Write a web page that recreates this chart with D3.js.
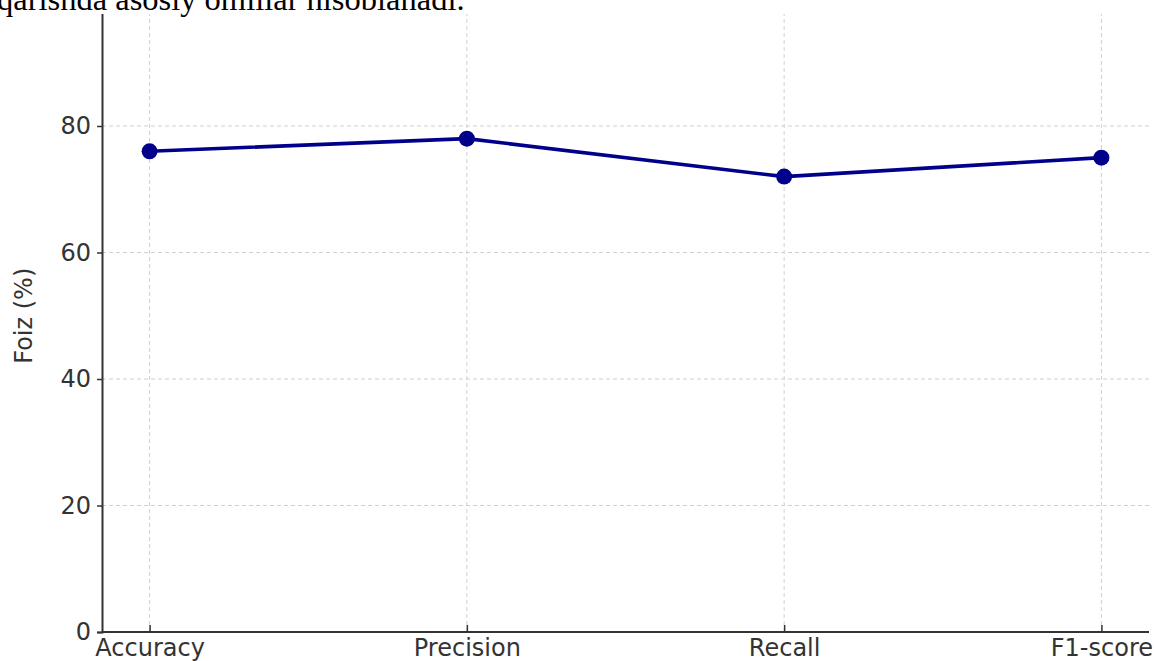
<!DOCTYPE html>
<html>
<head>
<meta charset="utf-8">
<script src="https://cdn.jsdelivr.net/npm/d3@7"></script>
<style>
  html, body { margin: 0; padding: 0; background: #fff; }
  svg { display: block; }
</style>
</head>
<body>
<div class="container"></div>
<script>
// metrics and their values (%)
const metrics = ["Accuracy", "Precision", "Recall", "F1-score"];
const scores = [76, 78, 72, 75];
const yTicks = [0, 20, 40, 60, 80];
const pageText = "qarishda asosiy omillar hisoblanadi.";

const W = 1154, H = 661;
const margin = { top: 0, right: 5, bottom: 29, left: 102 };

const svg = d3.select("div.container").append("svg")
    .attr("width", W)
    .attr("height", H);

const x = d3.scalePoint()
    .domain(metrics)
    .range([margin.left, W - margin.right])
    .padding(0.15);

const y = d3.scaleLinear()
    .domain([0, 100])
    .range([H - margin.bottom, margin.top - 0.5]);

// gridlines
const grid = svg.append("g").attr("class", "grid");
grid.selectAll("line.h")
    .data(yTicks.slice(1))
    .enter().append("line")
    .attr("x1", margin.left).attr("x2", W - margin.right)
    .attr("y1", d => y(d)).attr("y2", d => y(d))
    .attr("stroke", "#d0d0d0").attr("stroke-width", 1)
    .attr("stroke-dasharray", "4,3");
grid.selectAll("line.v")
    .data(metrics)
    .enter().append("line")
    .attr("x1", d => x(d)).attr("x2", d => x(d))
    .attr("y1", y(0)).attr("y2", y(100))
    .attr("stroke", "#d0d0d0").attr("stroke-width", 1)
    .attr("stroke-dasharray", "4,3");

// y axis
const yAxis = svg.append("g")
    .attr("transform", `translate(${margin.left},0)`)
    .call(d3.axisLeft(y).tickValues(yTicks).tickSize(5).tickPadding(6));

// x axis (ticks pointing inward)
const xAxis = svg.append("g")
    .attr("transform", `translate(0,${y(0)})`)
    .call(d3.axisBottom(x).tickSize(-7).tickPadding(7));

[yAxis, xAxis].forEach(g => {
    g.select(".domain").attr("stroke", "#333").attr("stroke-width", 2);
    g.selectAll(".tick line").attr("stroke", "#333").attr("stroke-width", 1.5);
    g.selectAll("text")
        .attr("fill", "#333")
        .style("font-family", "'DejaVu Sans', sans-serif")
        .style("font-size", "24px");
});
xAxis.select(".domain").attr("d", `M${margin.left},0H${W - margin.right}`);
xAxis.selectAll("text").attr("y", 24).attr("dy", 0);

// y label
svg.append("text")
    .attr("transform", `translate(32,${y(50) - 0}) rotate(-90)`)
    .attr("text-anchor", "middle")
    .attr("fill", "#333")
    .style("font-family", "'DejaVu Sans', sans-serif")
    .style("font-size", "24px")
    .text("Foiz (%)");

// line + markers
const line = d3.line()
    .x((d, i) => x(metrics[i]))
    .y(d => y(d));

svg.append("path")
    .datum(scores)
    .attr("d", line)
    .attr("fill", "none")
    .attr("stroke", "#00008B")
    .attr("stroke-width", 3.6);

svg.selectAll("circle")
    .data(scores)
    .enter().append("circle")
    .attr("cx", (d, i) => x(metrics[i]))
    .attr("cy", d => y(d))
    .attr("r", 8)
    .attr("fill", "#00008B");

// text of the page above the chart (cut at top, as in the source)
svg.append("rect")
    .attr("x", 0).attr("y", 0)
    .attr("width", W).attr("height", 14)
    .attr("fill", "#fff");
svg.append("text")
    .attr("x", -3)
    .attr("y", 10)
    .attr("fill", "#000")
    .style("font-family", "'Liberation Serif', serif")
    .style("font-size", "32.5px")
    .text(pageText);
</script>
</body>
</html>
